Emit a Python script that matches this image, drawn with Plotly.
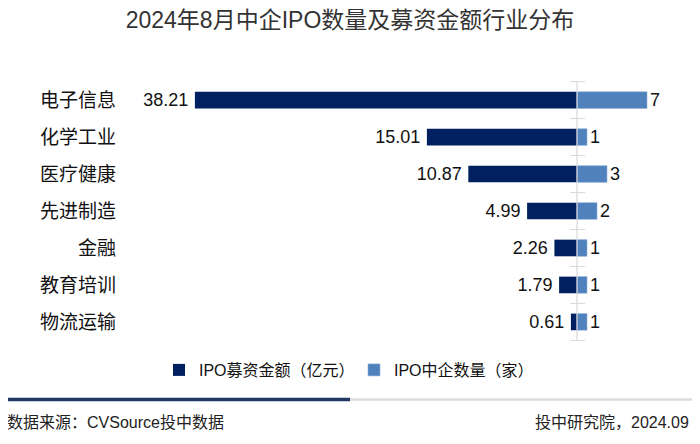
import plotly.graph_objects as go

categories = ["电子信息", "化学工业", "医疗健康", "先进制造", "金融", "教育培训", "物流运输"]
amount = [38.21, 15.01, 10.87, 4.99, 2.26, 1.79, 0.61]
count = [7, 1, 3, 2, 1, 1, 1]

series_amount = "IPO募资金额（亿元）"
series_count = "IPO中企数量（家）"
title_text = "2024年8月中企IPO数量及募资金额行业分布"
source_text = "数据来源：CVSource投中数据"
credit_text = "投中研究院，2024.09"

# page has an 8px default body margin; work in window pixels and shift
OFF = 8
W, H = 700 - 2 * OFF, 444 - 2 * OFF
L_t, R_t, T_t, B_t = 125, 680, 81, 343   # plot area in window pixels
ML, MT = L_t - OFF, T_t - OFF
MR, MB = W - (R_t - OFF), H - (B_t - OFF)
CENTER = 577

FONT = "Liberation Sans, Arial, Noto Sans CJK SC, sans-serif"
DARK = "#002060"
LIGHT = "#4f81bd"
GRID = "#d9d9d9"


def px_x(px):
    return (px - L_t) / (R_t - L_t)


def px_y(py):
    return (B_t - py) / (B_t - T_t)


fig = go.Figure()
fig.add_trace(go.Bar(
    y=categories, x=[-v for v in amount], orientation="h", name=series_amount,
    marker=dict(color=DARK, line=dict(width=0)), width=0.45,
    text=[f"{v:.2f}\u2009" for v in amount], textposition="outside", constraintext="none",
    textfont=dict(size=18, color="#111111", family=FONT), cliponaxis=False,
))
fig.add_trace(go.Bar(
    y=categories, x=count, orientation="h", name=series_count,
    marker=dict(color=LIGHT, line=dict(width=0.6, color="#8fb0d8")), width=0.45,
    text=[str(v) for v in count], textposition="outside", constraintext="none",
    textfont=dict(size=18, color="#111111", family=FONT), cliponaxis=False,
))

n = len(categories)
shapes = [dict(type="line", xref="x", yref="y", x0=0, x1=0, y0=-0.5, y1=n - 0.5,
               line=dict(color=GRID, width=1.2), layer="above")]
for k in range(n + 1):
    shapes.append(dict(type="line", xref="x", yref="y", x0=-0.7, x1=0.8,
                       y0=k - 0.5, y1=k - 0.5, line=dict(color=GRID, width=1)))
# footer rules
shapes.append(dict(type="line", xref="paper", yref="paper", x0=px_x(350), x1=px_x(692),
                   y0=px_y(402), y1=px_y(402), line=dict(color="#dcdcdc", width=2.5)))
shapes.append(dict(type="line", xref="paper", yref="paper", x0=px_x(5), x1=px_x(350),
                   y0=px_y(402), y1=px_y(402), line=dict(color="#1f3864", width=3.5)))

annotations = [
    dict(text=source_text, xref="paper", yref="paper", x=px_x(5), y=px_y(425),
         xanchor="left", yanchor="middle", showarrow=False,
         font=dict(size=16, color="#222222", family=FONT)),
    dict(text=credit_text, xref="paper", yref="paper", x=px_x(691), y=px_y(425),
         xanchor="right", yanchor="middle", showarrow=False,
         font=dict(size=16, color="#222222", family=FONT)),
]

fig.update_layout(
    width=W, height=H, margin=dict(l=ML, r=MR, t=MT, b=MB, pad=0),
    paper_bgcolor="white", plot_bgcolor="white",
    barmode="overlay", bargap=0.55,
    font=dict(family=FONT, color="#111111"),
    title=dict(text=title_text, x=(350 - OFF) / W, xref="container", xanchor="center",
               y=1 - (20 - OFF) / H, yref="container", yanchor="middle",
               font=dict(size=23, color="#333333", family=FONT)),
    xaxis=dict(range=[-(CENTER - L_t) / 10, (R_t - CENTER) / 10], visible=False,
               fixedrange=True),
    yaxis=dict(autorange="reversed", showgrid=False, zeroline=False, showline=False,
               ticks="", tickfont=dict(size=19, color="#111111", family=FONT),
               ticklabelstandoff=8),
    legend=dict(orientation="h", xref="container", yref="container",
                x=(354 - OFF) / W, xanchor="center", y=1 - (370 - OFF) / H,
                yanchor="middle", font=dict(size=16, color="#111111", family=FONT),
                itemwidth=30, traceorder="normal", entrywidth=150,
                entrywidthmode="pixels"),
    shapes=shapes, annotations=annotations, showlegend=True,
)

fig.write_html("out.html")
